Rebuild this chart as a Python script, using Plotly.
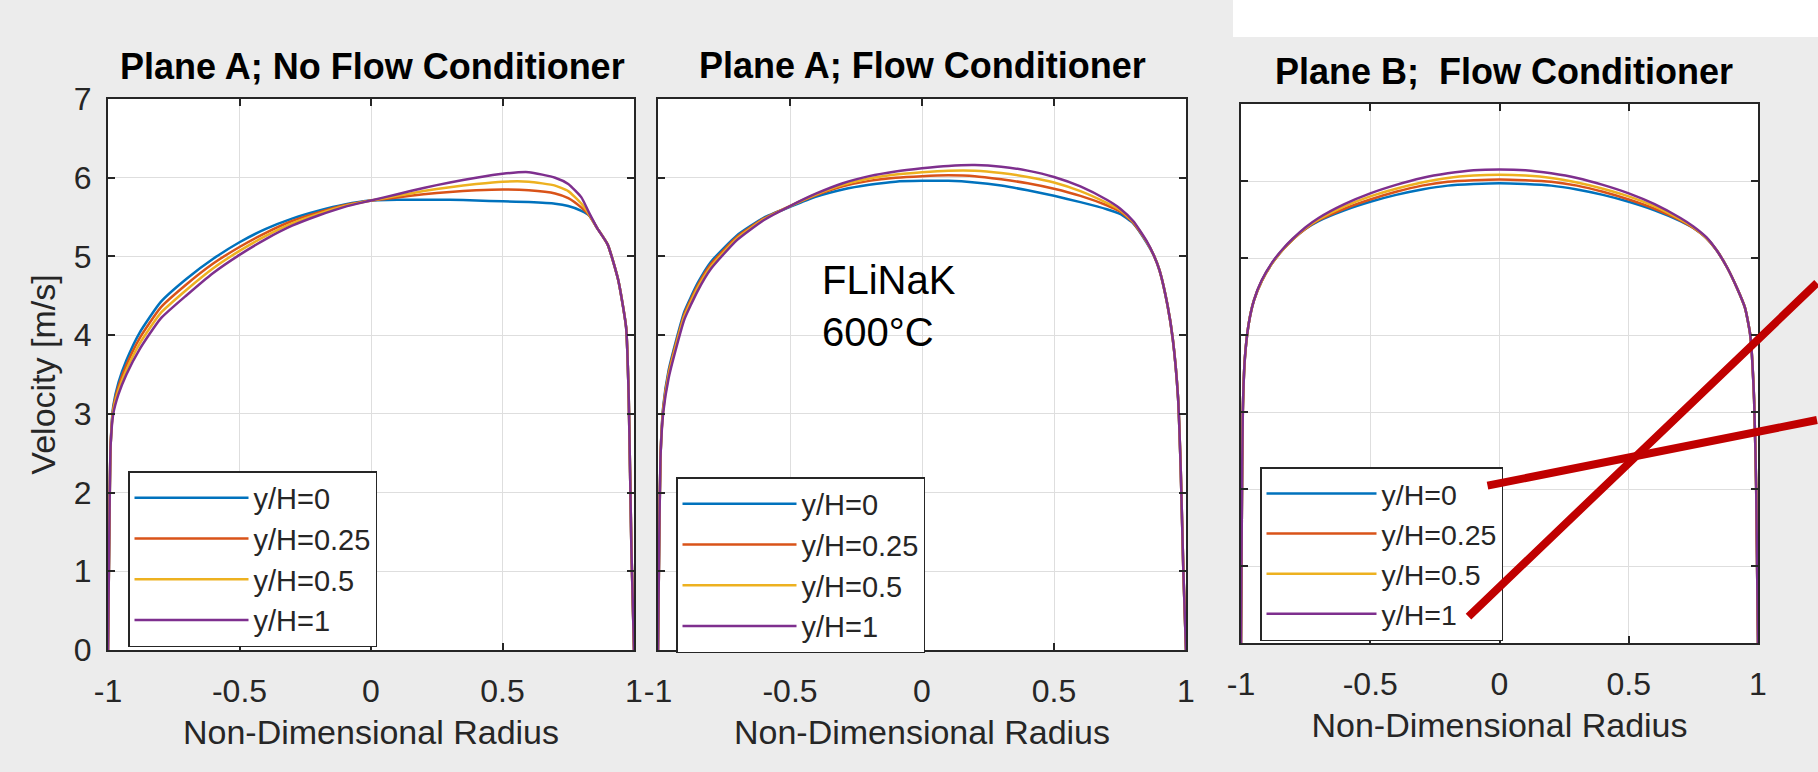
import plotly.graph_objects as go

W, H = 1818, 772

series_names = ["y/H=0", "y/H=0.25", "y/H=0.5", "y/H=1"]
series_colors = ["#0072BD", "#D95319", "#EDB120", "#7E2F8E"]

x_tick_vals = [-1, -0.5, 0, 0.5, 1]
x_tick_text = ["-1", "-0.5", "0", "0.5", "1"]
y_tick_vals = [0, 1, 2, 3, 4, 5, 6, 7]
y_tick_text = ["0", "1", "2", "3", "4", "5", "6", "7"]

# Plane A, no flow conditioner
radius_a_nfc = [-1.0, -0.995, -0.99, -0.98, -0.96, -0.93, -0.88, -0.8, -0.7, -0.6, -0.5,
                -0.4, -0.3, -0.2, -0.1, 0.0, 0.1, 0.2, 0.3, 0.4, 0.5, 0.6, 0.7, 0.75,
                0.8, 0.83, 0.86, 0.9, 0.94, 0.97, 0.98, 0.99, 1.0]
vel_a_nfc_0 = [0, 1.5, 2.6, 3.1, 3.4, 3.68, 4.03, 4.42, 4.72, 4.97, 5.18, 5.35, 5.48, 5.58,
               5.66, 5.71, 5.72, 5.72, 5.72, 5.71, 5.7, 5.69, 5.67, 5.64, 5.58, 5.52, 5.36,
               5.15, 4.7, 4.1, 3.2, 1.3, 0]
vel_a_nfc_025 = [0, 1.5, 2.6, 3.07, 3.35, 3.62, 3.96, 4.35, 4.65, 4.91, 5.12, 5.3, 5.45, 5.56,
                 5.65, 5.71, 5.75, 5.79, 5.82, 5.84, 5.85, 5.84, 5.8, 5.74, 5.62, 5.52, 5.36,
                 5.15, 4.7, 4.1, 3.2, 1.3, 0]
vel_a_nfc_05 = [0, 1.5, 2.6, 3.04, 3.3, 3.56, 3.89, 4.28, 4.58, 4.85, 5.07, 5.26, 5.42, 5.54,
                5.64, 5.71, 5.77, 5.83, 5.88, 5.92, 5.95, 5.95, 5.9, 5.83, 5.67, 5.53, 5.36,
                5.15, 4.7, 4.1, 3.2, 1.3, 0]
vel_a_nfc_1 = [0, 1.5, 2.6, 3.0, 3.25, 3.5, 3.82, 4.21, 4.51, 4.79, 5.02, 5.22, 5.39, 5.52,
               5.63, 5.71, 5.79, 5.87, 5.94, 6.0, 6.05, 6.07, 6.0, 5.92, 5.75, 5.55, 5.36,
               5.15, 4.7, 4.1, 3.2, 1.3, 0]

# Plane A, with flow conditioner
radius_a_fc = [-1.0, -0.995, -0.99, -0.98, -0.96, -0.93, -0.9, -0.85, -0.8, -0.7, -0.6, -0.5,
               -0.4, -0.3, -0.2, -0.1, 0.0, 0.1, 0.2, 0.3, 0.4, 0.5, 0.6, 0.7, 0.75, 0.8,
               0.85, 0.88, 0.9, 0.93, 0.95, 0.97, 0.98, 0.99, 1.0]
vel_a_fc_0 = [0, 1.5, 2.5, 3.1, 3.55, 3.95, 4.3, 4.66, 4.93, 5.27, 5.49, 5.63, 5.76, 5.85, 5.91,
              5.95, 5.96, 5.96, 5.94, 5.9, 5.84, 5.77, 5.69, 5.6, 5.54, 5.42, 5.18, 5.0, 4.82,
              4.38, 3.95, 3.2, 2.3, 1.0, 0]
vel_a_fc_025 = [0, 1.5, 2.5, 3.08, 3.52, 3.92, 4.27, 4.63, 4.9, 5.25, 5.48, 5.64, 5.78, 5.89,
                5.96, 6.0, 6.02, 6.03, 6.02, 5.98, 5.93, 5.86, 5.77, 5.65, 5.57, 5.43, 5.19,
                5.0, 4.82, 4.38, 3.95, 3.2, 2.3, 1.0, 0]
vel_a_fc_05 = [0, 1.5, 2.5, 3.05, 3.49, 3.89, 4.24, 4.6, 4.87, 5.23, 5.47, 5.64, 5.79, 5.91,
               5.99, 6.04, 6.07, 6.09, 6.09, 6.06, 6.01, 5.94, 5.83, 5.68, 5.59, 5.44, 5.19,
               5.0, 4.82, 4.38, 3.95, 3.2, 2.3, 1.0, 0]
vel_a_fc_1 = [0, 1.5, 2.5, 3.02, 3.45, 3.85, 4.2, 4.56, 4.84, 5.21, 5.46, 5.64, 5.8, 5.93, 6.02,
              6.08, 6.12, 6.15, 6.16, 6.14, 6.09, 6.01, 5.89, 5.72, 5.61, 5.45, 5.2, 5.0, 4.82,
              4.38, 3.95, 3.2, 2.3, 1.0, 0]

# Plane B, with flow conditioner
radius_b_fc = [-1.0, -0.997, -0.993, -0.985, -0.97, -0.95, -0.92, -0.88, -0.84, -0.8, -0.75,
               -0.7, -0.6, -0.5, -0.4, -0.3, -0.2, -0.1, 0.0, 0.1, 0.2, 0.3, 0.4, 0.5, 0.6,
               0.7, 0.75, 0.8, 0.84, 0.88, 0.92, 0.95, 0.97, 0.985, 0.993, 1.0]
vel_b_fc_0 = [0, 1.6, 3.0, 3.7, 4.15, 4.45, 4.7, 4.93, 5.1, 5.24, 5.38, 5.48, 5.62, 5.73, 5.82,
              5.89, 5.94, 5.96, 5.97, 5.96, 5.94, 5.89, 5.82, 5.73, 5.62, 5.48, 5.39, 5.26,
              5.1, 4.88, 4.6, 4.35, 4.0, 3.16, 2.0, 0]
vel_b_fc_025 = [0, 1.6, 3.0, 3.7, 4.15, 4.45, 4.7, 4.93, 5.1, 5.24, 5.38, 5.49, 5.64, 5.76,
                5.86, 5.94, 5.99, 6.01, 6.02, 6.01, 5.99, 5.94, 5.86, 5.76, 5.64, 5.49, 5.39,
                5.26, 5.1, 4.88, 4.6, 4.35, 4.0, 3.16, 2.0, 0]
vel_b_fc_05 = [0, 1.6, 3.0, 3.7, 4.15, 4.45, 4.7, 4.93, 5.1, 5.24, 5.39, 5.5, 5.67, 5.8, 5.9,
               5.98, 6.04, 6.07, 6.08, 6.07, 6.04, 5.98, 5.9, 5.8, 5.67, 5.5, 5.4, 5.26, 5.1,
               4.88, 4.6, 4.35, 4.0, 3.16, 2.0, 0]
vel_b_fc_1 = [0, 1.6, 3.0, 3.7, 4.15, 4.45, 4.71, 4.94, 5.11, 5.25, 5.4, 5.52, 5.7, 5.84, 5.95,
              6.04, 6.1, 6.14, 6.15, 6.14, 6.1, 6.04, 5.95, 5.84, 5.7, 5.52, 5.41, 5.27, 5.1,
              4.88, 4.6, 4.35, 4.0, 3.16, 2.0, 0]

FONT = "Liberation Sans, Arial, Helvetica, sans-serif"
INK = "#262626"


def fx(px):
    return px / W


def fy(px):
    return 1 - px / H


panels = [
    dict(radius=radius_a_nfc, vels=[vel_a_nfc_0, vel_a_nfc_025, vel_a_nfc_05, vel_a_nfc_1],
         xa="x", ya="y", legend="legend"),
    dict(radius=radius_a_fc, vels=[vel_a_fc_0, vel_a_fc_025, vel_a_fc_05, vel_a_fc_1],
         xa="x2", ya="y2", legend="legend2"),
    dict(radius=radius_b_fc, vels=[vel_b_fc_0, vel_b_fc_025, vel_b_fc_05, vel_b_fc_1],
         xa="x3", ya="y3", legend="legend3"),
]

fig = go.Figure()
for p in panels:
    for name, color, vel in zip(series_names, series_colors, p["vels"]):
        fig.add_trace(go.Scatter(
            x=p["radius"], y=vel, name=name, mode="lines",
            line=dict(color=color, width=2.5, shape="spline", smoothing=0.5),
            xaxis=p["xa"], yaxis=p["ya"], legend=p["legend"],
        ))


def x_axis(domain, anchor):
    return dict(
        domain=domain, anchor=anchor, range=[-1, 1],
        tickmode="array", tickvals=x_tick_vals, ticktext=x_tick_text,
        ticks="inside", ticklen=7, tickwidth=1.5, tickcolor=INK,
        showline=True, linecolor=INK, linewidth=2, mirror="allticks",
        showgrid=True, gridcolor="#dedede", gridwidth=1, zeroline=False,
        tickfont=dict(family=FONT, size=32, color=INK), ticklabelstandoff=12,
        title=dict(text="Non-Dimensional Radius", font=dict(family=FONT, size=34, color=INK),
                   standoff=12),
        automargin=False, fixedrange=True,
    )


def y_axis(domain, anchor, labels):
    return dict(
        domain=domain, anchor=anchor, range=[0, 7],
        tickmode="array", tickvals=y_tick_vals, ticktext=y_tick_text,
        showticklabels=labels,
        ticks="inside", ticklen=7, tickwidth=1.5, tickcolor=INK,
        showline=True, linecolor=INK, linewidth=2, mirror="allticks",
        showgrid=True, gridcolor="#dedede", gridwidth=1, zeroline=False,
        tickfont=dict(family=FONT, size=32, color=INK), ticklabelstandoff=8,
        automargin=False, fixedrange=True,
    )


def legend_box(left, top, size, sample):
    return dict(
        x=fx(left), y=fy(top), xanchor="left", yanchor="top",
        bgcolor="white", bordercolor=INK, borderwidth=1.5,
        font=dict(family=FONT, size=size, color=INK),
        itemwidth=sample, traceorder="normal",
    )


ya1 = y_axis([fy(650), fy(99)], "x", True)
ya1["title"] = dict(text="Velocity [m/s]", font=dict(family=FONT, size=34, color=INK), standoff=8)

fig.update_layout(
    width=W, height=H,
    margin=dict(l=0, r=0, t=0, b=0),
    paper_bgcolor="#ececec", plot_bgcolor="white",
    xaxis=x_axis([fx(108), fx(634)], "y"),
    yaxis=ya1,
    xaxis2=x_axis([fx(658), fx(1186)], "y2"),
    yaxis2=y_axis([fy(650), fy(99)], "x2", False),
    xaxis3=x_axis([fx(1241), fx(1758)], "y3"),
    yaxis3=y_axis([fy(643), fy(104)], "x3", False),
    legend=legend_box(128, 471, 29, 114),
    legend2=legend_box(676, 477, 29, 114),
    legend3=legend_box(1260, 467, 28.5, 110),
    showlegend=True,
)

titles = [
    ("Plane A; No Flow Conditioner", 372, 67),
    ("Plane A; Flow Conditioner", 923, 66),
    ("Plane B;\u00a0 Flow Conditioner", 1504, 71),
]
for text, cx, cy in titles:
    fig.add_annotation(
        text=f"<b>{text}</b>", x=fx(cx), y=fy(cy), xref="paper", yref="paper",
        xanchor="center", yanchor="middle", showarrow=False,
        font=dict(family=FONT, size=36, color="black"),
    )

fig.add_annotation(
    text="FLiNaK<br>600°C", x=fx(820), y=fy(256), xref="paper", yref="paper",
    xanchor="left", yanchor="top", align="left", showarrow=False,
    font=dict(family=FONT, size=40, color="black"),
)

# white strip above the right-hand panel
fig.add_shape(type="rect", xref="paper", yref="paper", x0=fx(1233), x1=1, y0=fy(37), y1=1,
              fillcolor="white", line=dict(width=0), layer="below")

# red pointer strokes, drawn as headless arrows so they sit above the legend box
pointers = [((1486, 486), (1818, 420)), ((1467, 618), (1818, 283))]
for (tx, ty), (hx, hy) in pointers:
    fig.add_annotation(
        text="", x=fx(hx), y=fy(hy), xref="paper", yref="paper",
        ax=tx - hx, ay=ty - hy, axref="pixel", ayref="pixel",
        showarrow=True, arrowhead=0, arrowwidth=8, arrowcolor="#C00000",
        standoff=0, startstandoff=0,
    )

fig.write_html("out.html")
